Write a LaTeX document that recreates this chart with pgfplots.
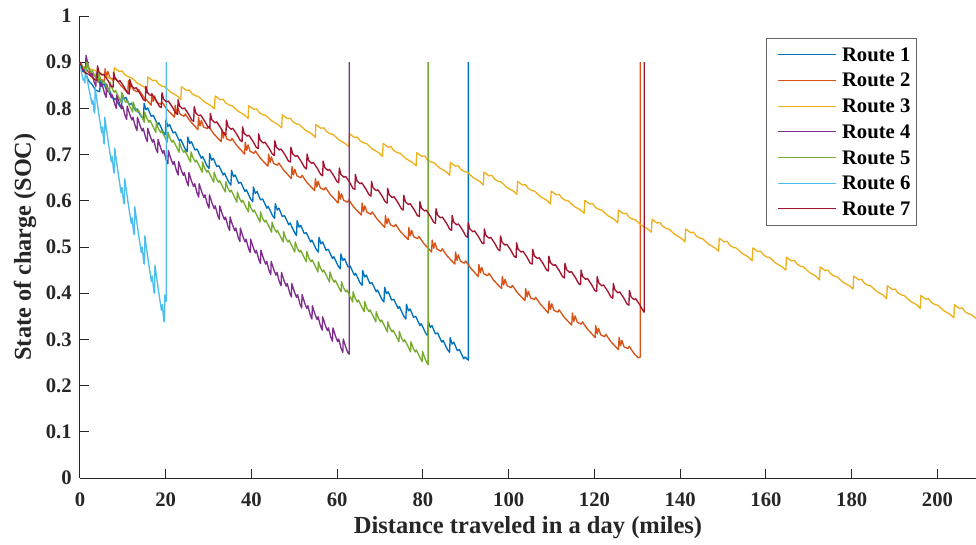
\documentclass[border=0pt]{standalone}
\usepackage{pgfplots}
\pgfplotsset{compat=1.18}
\usepackage{fontspec}
\setmainfont{Liberation Serif}

\definecolor{rA}{RGB}{0,114,189}
\definecolor{rB}{RGB}{217,83,25}
\definecolor{rC}{RGB}{237,177,32}
\definecolor{rD}{RGB}{126,47,142}
\definecolor{rE}{RGB}{119,172,48}
\definecolor{rF}{RGB}{77,190,238}
\definecolor{rG}{RGB}{162,20,47}
\definecolor{axisgray}{RGB}{38,38,38}
\definecolor{legendgray}{RGB}{100,100,100}

\begin{document}
\begin{tikzpicture}
\begin{axis}[
  scale only axis,
  width=672pt, height=346.5pt,
  xmin=0, xmax=209, ymin=0, ymax=1,
  axis x line*=bottom, axis y line*=left,
  axis line style={-, line width=0.75pt, color=axisgray},
  tick align=inside,
  major tick length=7pt,
  tick style={line width=0.75pt, color=axisgray},
  xtick={0,20,40,60,80,100,120,140,160,180,200},
  xticklabels={0,20,40,60,80,100,120,140,160,180,200},
  ytick={0,0.1,0.2,0.3,0.4,0.5,0.6,0.7,0.8,0.9,1},
  yticklabels={0,0.1,0.2,0.3,0.4,0.5,0.6,0.7,0.8,0.9,1},
  /pgf/number format/assume math mode=true,
  tick label style={font=\fontsize{15.5}{18}\selectfont\bfseries, text=axisgray},
  yticklabel style={inner sep=0pt, anchor=east, xshift=-6pt},
  xticklabel style={inner sep=0pt, anchor=north, yshift=-10.5pt},
  xlabel={Distance traveled in a day (miles)},
  ylabel={State of charge (SOC)},
  every axis x label/.style={at={(axis description cs:0.5,-0.1212)}, anchor=base,
    font=\fontsize{18.4}{21}\selectfont\bfseries, text=axisgray},
  every axis y label/.style={at={(axis description cs:-0.0547,0.5)}, rotate=90, anchor=base,
    font=\fontsize{18.2}{21}\selectfont\bfseries, text=axisgray},
  every axis plot/.append style={line width=1pt, mark=none, line join=round},
  legend style={at={(0.934,0.952)}, anchor=north east, draw=legendgray, line width=0.75pt,
    fill=white, font=\fontsize{15.5}{18}\selectfont\bfseries,
    inner xsep=4.5pt, inner ysep=6.7pt, row sep=8.6pt, column sep=4.5pt,
    nodes={inner sep=0pt, text height=10.2pt, text depth=0pt, anchor=base west}},
  legend cell align=left,
  legend image code/.code={\path (0pt,0pt); \draw[#1, line width=0.75pt] (3.75pt,5pt) -- (46.75pt,5pt);},
]
% Route 1
\addplot[color=rA] coordinates {
(0,0.9) (0.6,0.880) (1.2,0.878) (2.0,0.860) (2.8,0.852) (3.6,0.840)
(4.6,0.836) (4.75,0.862) (5.2,0.850) (5.6,0.853) (6.4,0.836) (6.9,0.838) (7.9,0.818) (8.2,0.822) (9.2,0.806)
(9.7,0.800) (9.85,0.832) (10.3,0.820) (10.7,0.824) (11.5,0.808) (12.0,0.811) (13.0,0.795) (13.3,0.799) (14.3,0.782)
(14.8,0.779) (14.95,0.811) (15.4,0.797) (15.8,0.801) (16.6,0.783) (17.1,0.785) (18.1,0.765) (18.4,0.769) (19.4,0.749)
(19.9,0.743) (20.05,0.775) (20.5,0.761) (20.9,0.765) (21.7,0.747) (22.2,0.749) (23.2,0.729) (23.5,0.733) (24.5,0.713)
(25.0,0.706) (25.15,0.738) (25.6,0.724) (26.0,0.728) (26.8,0.710) (27.3,0.712) (28.3,0.692) (28.6,0.696) (29.6,0.676)
(30.1,0.670) (30.25,0.702) (30.7,0.688) (31.1,0.692) (31.9,0.674) (32.4,0.676) (33.4,0.656) (33.7,0.660) (34.7,0.640)
(35.2,0.634) (35.35,0.666) (35.8,0.652) (36.2,0.656) (37.0,0.638) (37.5,0.640) (38.5,0.620) (38.8,0.624) (39.8,0.604)
(40.3,0.598) (40.45,0.630) (40.9,0.616) (41.3,0.620) (42.1,0.602) (42.6,0.604) (43.6,0.584) (43.9,0.588) (44.9,0.568)
(45.4,0.562) (45.55,0.594) (46.0,0.580) (46.4,0.584) (47.2,0.566) (47.7,0.568) (48.7,0.548) (49.0,0.552) (50.0,0.532)
(50.5,0.525) (50.65,0.557) (51.1,0.543) (51.5,0.547) (52.3,0.529) (52.8,0.531) (53.8,0.511) (54.1,0.515) (55.1,0.495)
(55.6,0.489) (55.75,0.521) (56.2,0.507) (56.6,0.511) (57.4,0.493) (57.9,0.495) (58.9,0.475) (59.2,0.479) (60.2,0.459)
(60.7,0.453) (60.85,0.485) (61.3,0.471) (61.7,0.475) (62.5,0.457) (63.0,0.459) (64.0,0.439) (64.3,0.443) (65.3,0.423)
(65.8,0.417) (65.95,0.449) (66.4,0.435) (66.8,0.439) (67.6,0.421) (68.1,0.423) (69.1,0.403) (69.4,0.407) (70.4,0.387)
(70.9,0.381) (71.05,0.413) (71.5,0.399) (71.9,0.403) (72.7,0.385) (73.2,0.387) (74.2,0.367) (74.5,0.371) (75.5,0.351)
(76.0,0.344) (76.15,0.376) (76.6,0.362) (77.0,0.366) (77.8,0.348) (78.3,0.350) (79.3,0.330) (79.6,0.334) (80.6,0.314)
(81.1,0.308) (81.25,0.340) (81.7,0.326) (82.1,0.330) (82.9,0.312) (83.4,0.314) (84.4,0.294) (84.7,0.298) (85.7,0.278)
(86.2,0.272) (86.35,0.304) (86.8,0.290) (87.2,0.294) (88.0,0.276) (88.5,0.278) (89.5,0.258) (89.8,0.262) (90.6,0.255)
(90.6,0.9)
};
% Route 2
\addplot[color=rB] coordinates {
(0,0.9) (0.6,0.885) (1.2,0.890) (2.0,0.878) (3.0,0.874) (4.0,0.866) (5.0,0.862)
(5.7,0.860) (5.85,0.886) (6.2,0.868) (6.5,0.880) (7.0,0.866) (7.9,0.862) (8.2,0.867) (9.3,0.852) (10.3,0.842)
(11.15,0.834) (11.3,0.860) (11.65,0.842) (11.95,0.854) (12.45,0.840) (13.35,0.836) (13.65,0.841) (14.75,0.826) (15.75,0.816)
(16.6,0.807) (16.75,0.833) (17.1,0.815) (17.4,0.827) (17.9,0.813) (18.8,0.809) (19.1,0.814) (20.2,0.799) (21.2,0.789)
(22.05,0.781) (22.2,0.807) (22.55,0.789) (22.85,0.801) (23.35,0.787) (24.25,0.783) (24.55,0.788) (25.65,0.773) (26.65,0.763)
(27.5,0.754) (27.65,0.780) (28.0,0.762) (28.3,0.774) (28.8,0.760) (29.7,0.756) (30.0,0.761) (31.1,0.746) (32.1,0.736)
(32.95,0.728) (33.1,0.754) (33.45,0.736) (33.75,0.748) (34.25,0.734) (35.15,0.730) (35.45,0.735) (36.55,0.720) (37.55,0.710)
(38.4,0.701) (38.55,0.727) (38.9,0.709) (39.2,0.721) (39.7,0.707) (40.6,0.703) (40.9,0.708) (42.0,0.693) (43.0,0.683)
(43.85,0.675) (44.0,0.701) (44.35,0.683) (44.65,0.695) (45.15,0.681) (46.05,0.677) (46.35,0.682) (47.45,0.667) (48.45,0.657)
(49.3,0.648) (49.45,0.674) (49.8,0.656) (50.1,0.668) (50.6,0.654) (51.5,0.650) (51.8,0.655) (52.9,0.640) (53.9,0.630)
(54.75,0.622) (54.9,0.648) (55.25,0.630) (55.55,0.642) (56.05,0.628) (56.95,0.624) (57.25,0.629) (58.35,0.614) (59.35,0.604)
(60.2,0.595) (60.35,0.621) (60.7,0.603) (61.0,0.615) (61.5,0.601) (62.4,0.597) (62.7,0.602) (63.8,0.587) (64.8,0.577)
(65.65,0.569) (65.8,0.595) (66.15,0.577) (66.45,0.589) (66.95,0.575) (67.85,0.571) (68.15,0.576) (69.25,0.561) (70.25,0.551)
(71.1,0.542) (71.25,0.568) (71.6,0.550) (71.9,0.562) (72.4,0.548) (73.3,0.544) (73.6,0.549) (74.7,0.534) (75.7,0.524)
(76.55,0.516) (76.7,0.542) (77.05,0.524) (77.35,0.536) (77.85,0.522) (78.75,0.518) (79.05,0.523) (80.15,0.508) (81.15,0.498)
(82.0,0.489) (82.15,0.515) (82.5,0.497) (82.8,0.509) (83.3,0.495) (84.2,0.491) (84.5,0.496) (85.6,0.481) (86.6,0.471)
(87.45,0.463) (87.6,0.489) (87.95,0.471) (88.25,0.483) (88.75,0.469) (89.65,0.465) (89.95,0.470) (91.05,0.455) (92.05,0.445)
(92.9,0.436) (93.05,0.462) (93.4,0.444) (93.7,0.456) (94.2,0.442) (95.1,0.438) (95.4,0.443) (96.5,0.428) (97.5,0.418)
(98.35,0.410) (98.5,0.436) (98.85,0.418) (99.15,0.430) (99.65,0.416) (100.55,0.412) (100.85,0.417) (101.95,0.402) (102.95,0.392)
(103.8,0.384) (103.95,0.410) (104.3,0.392) (104.6,0.404) (105.1,0.390) (106.0,0.386) (106.3,0.391) (107.4,0.376) (108.4,0.366)
(109.25,0.357) (109.4,0.383) (109.75,0.365) (110.05,0.377) (110.55,0.363) (111.45,0.359) (111.75,0.364) (112.85,0.349) (113.85,0.339)
(114.7,0.331) (114.85,0.357) (115.2,0.339) (115.5,0.351) (116.0,0.337) (116.9,0.333) (117.2,0.338) (118.3,0.323) (119.3,0.313)
(120.15,0.304) (120.3,0.330) (120.65,0.312) (120.95,0.324) (121.45,0.310) (122.35,0.306) (122.65,0.311) (123.75,0.296) (124.75,0.286)
(125.6,0.278) (125.75,0.304) (126.1,0.286) (126.4,0.298) (126.9,0.284) (127.8,0.280) (128.1,0.285) (129.2,0.270) (130.2,0.260)
(130.7,0.262) (130.7,0.9)
};
% Route 3
\addplot[color=rC] coordinates {
(0,0.9) (0.6,0.888) (1.5,0.890) (2.5,0.885) (3.5,0.882) (4.5,0.878) (5.5,0.872) (6.8,0.866)
(7.84,0.860) (7.99,0.888) (8.44,0.885) (9.14,0.880) (9.84,0.881) (10.44,0.873) (11.34,0.868) (11.94,0.867) (13.34,0.855) (14.84,0.847)
(15.68,0.840) (15.83,0.868) (16.28,0.865) (16.98,0.860) (17.68,0.861) (18.28,0.853) (19.18,0.848) (19.78,0.847) (21.18,0.835) (22.68,0.827)
(23.52,0.819) (23.67,0.847) (24.12,0.844) (24.82,0.839) (25.52,0.840) (26.12,0.832) (27.02,0.827) (27.62,0.826) (29.02,0.814) (30.52,0.806)
(31.36,0.799) (31.51,0.827) (31.96,0.824) (32.66,0.819) (33.36,0.820) (33.96,0.812) (34.86,0.807) (35.46,0.806) (36.86,0.794) (38.36,0.786)
(39.2,0.778) (39.35,0.806) (39.8,0.803) (40.5,0.798) (41.2,0.799) (41.8,0.791) (42.7,0.786) (43.3,0.785) (44.7,0.773) (46.2,0.765)
(47.04,0.758) (47.19,0.786) (47.64,0.783) (48.34,0.778) (49.04,0.779) (49.64,0.771) (50.54,0.766) (51.14,0.765) (52.54,0.753) (54.04,0.745)
(54.88,0.737) (55.03,0.765) (55.48,0.762) (56.18,0.757) (56.88,0.758) (57.48,0.750) (58.38,0.745) (58.98,0.744) (60.38,0.732) (61.88,0.724)
(62.72,0.717) (62.87,0.745) (63.32,0.742) (64.02,0.737) (64.72,0.738) (65.32,0.730) (66.22,0.725) (66.82,0.724) (68.22,0.712) (69.72,0.704)
(70.56,0.696) (70.71,0.724) (71.16,0.721) (71.86,0.716) (72.56,0.717) (73.16,0.709) (74.06,0.704) (74.66,0.703) (76.06,0.691) (77.56,0.683)
(78.4,0.676) (78.55,0.704) (79.0,0.701) (79.7,0.696) (80.4,0.697) (81.0,0.689) (81.9,0.684) (82.5,0.683) (83.9,0.671) (85.4,0.663)
(86.24,0.655) (86.39,0.683) (86.84,0.680) (87.54,0.675) (88.24,0.676) (88.84,0.668) (89.74,0.663) (90.34,0.662) (91.74,0.650) (93.24,0.642)
(94.08,0.634) (94.23,0.662) (94.68,0.659) (95.38,0.654) (96.08,0.655) (96.68,0.647) (97.58,0.642) (98.18,0.641) (99.58,0.629) (101.08,0.621)
(101.92,0.614) (102.07,0.642) (102.52,0.639) (103.22,0.634) (103.92,0.635) (104.52,0.627) (105.42,0.622) (106.02,0.621) (107.42,0.609) (108.92,0.601)
(109.76,0.593) (109.91,0.621) (110.36,0.618) (111.06,0.613) (111.76,0.614) (112.36,0.606) (113.26,0.601) (113.86,0.600) (115.26,0.588) (116.76,0.580)
(117.6,0.573) (117.75,0.601) (118.2,0.598) (118.9,0.593) (119.6,0.594) (120.2,0.586) (121.1,0.581) (121.7,0.580) (123.1,0.568) (124.6,0.560)
(125.44,0.552) (125.59,0.580) (126.04,0.577) (126.74,0.572) (127.44,0.573) (128.04,0.565) (128.94,0.560) (129.54,0.559) (130.94,0.547) (132.44,0.539)
(133.28,0.532) (133.43,0.560) (133.88,0.557) (134.58,0.552) (135.28,0.553) (135.88,0.545) (136.78,0.540) (137.38,0.539) (138.78,0.527) (140.28,0.519)
(141.12,0.511) (141.27,0.539) (141.72,0.536) (142.42,0.531) (143.12,0.532) (143.72,0.524) (144.62,0.519) (145.22,0.518) (146.62,0.506) (148.12,0.498)
(148.96,0.491) (149.11,0.519) (149.56,0.516) (150.26,0.511) (150.96,0.512) (151.56,0.504) (152.46,0.499) (153.06,0.498) (154.46,0.486) (155.96,0.478)
(156.8,0.470) (156.95,0.498) (157.4,0.495) (158.1,0.490) (158.8,0.491) (159.4,0.483) (160.3,0.478) (160.9,0.477) (162.3,0.465) (163.8,0.457)
(164.64,0.450) (164.79,0.478) (165.24,0.475) (165.94,0.470) (166.64,0.471) (167.24,0.463) (168.14,0.458) (168.74,0.457) (170.14,0.445) (171.64,0.437)
(172.48,0.429) (172.63,0.457) (173.08,0.454) (173.78,0.449) (174.48,0.450) (175.08,0.442) (175.98,0.437) (176.58,0.436) (177.98,0.424) (179.48,0.416)
(180.32,0.409) (180.47,0.437) (180.92,0.434) (181.62,0.429) (182.32,0.430) (182.92,0.422) (183.82,0.417) (184.42,0.416) (185.82,0.404) (187.32,0.396)
(188.16,0.388) (188.31,0.416) (188.76,0.413) (189.46,0.408) (190.16,0.409) (190.76,0.401) (191.66,0.396) (192.26,0.395) (193.66,0.383) (195.16,0.375)
(196.0,0.367) (196.15,0.395) (196.6,0.392) (197.3,0.387) (198.0,0.388) (198.6,0.380) (199.5,0.375) (200.1,0.374) (201.5,0.362) (203.0,0.354)
(203.84,0.347) (203.99,0.375) (204.44,0.372) (205.14,0.367) (205.84,0.368) (206.44,0.360) (207.34,0.355) (207.94,0.354) (209.0,0.345)
};
% Route 4
\addplot[color=rD] coordinates {
(0,0.9) (0.6,0.890) (1.0,0.885) (1.3,0.880) (1.4,0.915) (2.0,0.890) (2.5,0.871) (2.75,0.877) (3.3,0.857)
(3.7,0.848) (3.8,0.877) (4.4,0.859) (4.9,0.847) (5.15,0.853) (5.7,0.833)
(6.1,0.824) (6.2,0.853) (6.8,0.835) (7.3,0.823) (7.55,0.829) (8.1,0.809)
(8.5,0.800) (8.6,0.829) (9.2,0.811) (9.7,0.799) (9.95,0.805) (10.5,0.785)
(10.9,0.776) (11.0,0.805) (11.6,0.787) (12.1,0.775) (12.35,0.781) (12.9,0.761)
(13.3,0.752) (13.4,0.781) (14.0,0.763) (14.5,0.751) (14.75,0.757) (15.3,0.737)
(15.7,0.728) (15.8,0.757) (16.4,0.739) (16.9,0.727) (17.15,0.733) (17.7,0.713)
(18.1,0.704) (18.2,0.733) (18.8,0.715) (19.3,0.703) (19.55,0.709) (20.1,0.689)
(20.5,0.680) (20.6,0.709) (21.2,0.691) (21.7,0.679) (21.95,0.685) (22.5,0.665)
(22.9,0.656) (23.0,0.685) (23.6,0.667) (24.1,0.655) (24.35,0.661) (24.9,0.641)
(25.3,0.632) (25.4,0.661) (26.0,0.643) (26.5,0.631) (26.75,0.637) (27.3,0.617)
(27.7,0.608) (27.8,0.637) (28.4,0.619) (28.9,0.607) (29.15,0.613) (29.7,0.593)
(30.1,0.584) (30.2,0.613) (30.8,0.595) (31.3,0.583) (31.55,0.589) (32.1,0.569)
(32.5,0.560) (32.6,0.589) (33.2,0.571) (33.7,0.559) (33.95,0.565) (34.5,0.545)
(34.9,0.536) (35.0,0.565) (35.6,0.547) (36.1,0.535) (36.35,0.541) (36.9,0.521)
(37.3,0.512) (37.4,0.541) (38.0,0.523) (38.5,0.511) (38.75,0.517) (39.3,0.497)
(39.7,0.488) (39.8,0.517) (40.4,0.499) (40.9,0.487) (41.15,0.493) (41.7,0.473)
(42.1,0.464) (42.2,0.493) (42.8,0.475) (43.3,0.463) (43.55,0.469) (44.1,0.449)
(44.5,0.440) (44.6,0.469) (45.2,0.451) (45.7,0.439) (45.95,0.445) (46.5,0.425)
(46.9,0.416) (47.0,0.445) (47.6,0.427) (48.1,0.415) (48.35,0.421) (48.9,0.401)
(49.3,0.392) (49.4,0.421) (50.0,0.403) (50.5,0.391) (50.75,0.397) (51.3,0.377)
(51.7,0.368) (51.8,0.397) (52.4,0.379) (52.9,0.367) (53.15,0.373) (53.7,0.353)
(54.1,0.344) (54.2,0.373) (54.8,0.355) (55.3,0.343) (55.55,0.349) (56.1,0.329)
(56.5,0.320) (56.6,0.349) (57.2,0.331) (57.7,0.319) (57.95,0.325) (58.5,0.305)
(58.9,0.296) (59.0,0.325) (59.6,0.307) (60.1,0.295) (60.35,0.301) (60.9,0.281)
(61.3,0.272) (61.4,0.301) (62.0,0.283) (62.5,0.271) (62.8,0.268) (62.8,0.9)
};
% Route 5
\addplot[color=rE] coordinates {
(0,0.9) (0.5,0.893) (0.9,0.886) (1.2,0.889)
(1.5,0.878) (1.6,0.900) (2.1,0.886) (2.6,0.878) (2.85,0.882) (3.7,0.866)
(4.2,0.856) (4.3,0.878) (4.8,0.864) (5.3,0.856) (5.55,0.860) (6.4,0.844)
(6.9,0.835) (7.0,0.857) (7.5,0.843) (8.0,0.835) (8.25,0.839) (9.1,0.823)
(9.6,0.813) (9.7,0.835) (10.2,0.821) (10.7,0.813) (10.95,0.817) (11.8,0.801)
(12.3,0.792) (12.4,0.814) (12.9,0.800) (13.4,0.792) (13.65,0.796) (14.5,0.780)
(15.0,0.770) (15.1,0.792) (15.6,0.778) (16.1,0.770) (16.35,0.774) (17.2,0.758)
(17.7,0.748) (17.8,0.770) (18.3,0.756) (18.8,0.748) (19.05,0.752) (19.9,0.736)
(20.4,0.727) (20.5,0.749) (21.0,0.735) (21.5,0.727) (21.75,0.731) (22.6,0.715)
(23.1,0.705) (23.2,0.727) (23.7,0.713) (24.2,0.705) (24.45,0.709) (25.3,0.693)
(25.8,0.684) (25.9,0.706) (26.4,0.692) (26.9,0.684) (27.15,0.688) (28.0,0.672)
(28.5,0.662) (28.6,0.684) (29.1,0.670) (29.6,0.662) (29.85,0.666) (30.7,0.650)
(31.2,0.640) (31.3,0.662) (31.8,0.648) (32.3,0.640) (32.55,0.644) (33.4,0.628)
(33.9,0.619) (34.0,0.641) (34.5,0.627) (35.0,0.619) (35.25,0.623) (36.1,0.607)
(36.6,0.597) (36.7,0.619) (37.2,0.605) (37.7,0.597) (37.95,0.601) (38.8,0.585)
(39.3,0.576) (39.4,0.598) (39.9,0.584) (40.4,0.576) (40.65,0.580) (41.5,0.564)
(42.0,0.554) (42.1,0.576) (42.6,0.562) (43.1,0.554) (43.35,0.558) (44.2,0.542)
(44.7,0.532) (44.8,0.554) (45.3,0.540) (45.8,0.532) (46.05,0.536) (46.9,0.520)
(47.4,0.511) (47.5,0.533) (48.0,0.519) (48.5,0.511) (48.75,0.515) (49.6,0.499)
(50.1,0.489) (50.2,0.511) (50.7,0.497) (51.2,0.489) (51.45,0.493) (52.3,0.477)
(52.8,0.468) (52.9,0.490) (53.4,0.476) (53.9,0.468) (54.15,0.472) (55.0,0.456)
(55.5,0.446) (55.6,0.468) (56.1,0.454) (56.6,0.446) (56.85,0.450) (57.7,0.434)
(58.2,0.424) (58.3,0.446) (58.8,0.432) (59.3,0.424) (59.55,0.428) (60.4,0.412)
(60.9,0.403) (61.0,0.425) (61.5,0.411) (62.0,0.403) (62.25,0.407) (63.1,0.391)
(63.6,0.381) (63.7,0.403) (64.2,0.389) (64.7,0.381) (64.95,0.385) (65.8,0.369)
(66.3,0.360) (66.4,0.382) (66.9,0.368) (67.4,0.360) (67.65,0.364) (68.5,0.348)
(69.0,0.338) (69.1,0.360) (69.6,0.346) (70.1,0.338) (70.35,0.342) (71.2,0.326)
(71.7,0.316) (71.8,0.338) (72.3,0.324) (72.8,0.316) (73.05,0.320) (73.9,0.304)
(74.4,0.295) (74.5,0.317) (75.0,0.303) (75.5,0.295) (75.75,0.299) (76.6,0.283)
(77.1,0.273) (77.2,0.295) (77.7,0.281) (78.2,0.273) (78.45,0.277) (79.3,0.261)
(79.8,0.252) (79.9,0.274) (80.4,0.260) (80.9,0.250) (81.2,0.245) (81.2,0.9)
};
% Route 6
\addplot[color=rF] coordinates {
(0,0.9) (0.4,0.875) (0.8,0.860) (1.0,0.865) (1.15,0.855) (1.25,0.885)
(2.1,0.842) (2.8,0.809) (3.0,0.818) (3.3,0.792) (3.45,0.790) (3.53,0.845)
(4.35,0.790) (5.05,0.747) (5.25,0.760) (5.55,0.725) (5.7,0.723) (5.78,0.781)
(6.6,0.727) (7.3,0.684) (7.5,0.696) (7.85,0.662) (8.0,0.660) (8.08,0.714)
(8.9,0.660) (9.6,0.617) (9.8,0.629) (10.2,0.595) (10.35,0.593) (10.43,0.648)
(11.25,0.594) (11.95,0.551) (12.15,0.563) (12.55,0.529) (12.7,0.527) (12.78,0.587)
(13.6,0.531) (14.3,0.488) (14.5,0.500) (14.9,0.465) (15.05,0.463) (15.13,0.524)
(15.95,0.468) (16.65,0.425) (16.85,0.437) (17.25,0.402) (17.4,0.400) (17.48,0.461)
(18.3,0.406) (19.0,0.363) (19.2,0.375) (19.55,0.340) (19.7,0.338) (19.78,0.396)
(19.95,0.385) (20.1,0.382) (20.1,0.9)
};
% Route 7
\addplot[color=rG] coordinates {
(0,0.9) (0.6,0.885) (1.2,0.877) (2.0,0.874) (2.8,0.868) (3.5,0.862)
(3.96,0.860) (4.08,0.892) (4.46,0.878) (5.16,0.872) (5.56,0.874) (6.56,0.860) (7.26,0.848)
(7.72,0.846) (7.84,0.878) (8.22,0.864) (8.92,0.858) (9.32,0.860) (10.32,0.846) (11.02,0.834)
(11.48,0.831) (11.6,0.863) (11.98,0.849) (12.68,0.843) (13.08,0.845) (14.08,0.831) (14.78,0.819)
(15.24,0.816) (15.36,0.848) (15.74,0.834) (16.44,0.828) (16.84,0.830) (17.84,0.816) (18.54,0.804)
(19.0,0.802) (19.12,0.834) (19.5,0.820) (20.2,0.814) (20.6,0.816) (21.6,0.802) (22.3,0.790)
(22.76,0.787) (22.88,0.819) (23.26,0.805) (23.96,0.799) (24.36,0.801) (25.36,0.787) (26.06,0.775)
(26.52,0.772) (26.64,0.804) (27.02,0.790) (27.72,0.784) (28.12,0.786) (29.12,0.772) (29.82,0.760)
(30.28,0.757) (30.4,0.789) (30.78,0.775) (31.48,0.769) (31.88,0.771) (32.88,0.757) (33.58,0.745)
(34.04,0.743) (34.16,0.775) (34.54,0.761) (35.24,0.755) (35.64,0.757) (36.64,0.743) (37.34,0.731)
(37.8,0.728) (37.92,0.760) (38.3,0.746) (39.0,0.740) (39.4,0.742) (40.4,0.728) (41.1,0.716)
(41.56,0.713) (41.68,0.745) (42.06,0.731) (42.76,0.725) (43.16,0.727) (44.16,0.713) (44.86,0.701)
(45.32,0.698) (45.44,0.730) (45.82,0.716) (46.52,0.710) (46.92,0.712) (47.92,0.698) (48.62,0.686)
(49.08,0.684) (49.2,0.716) (49.58,0.702) (50.28,0.696) (50.68,0.698) (51.68,0.684) (52.38,0.672)
(52.84,0.669) (52.96,0.701) (53.34,0.687) (54.04,0.681) (54.44,0.683) (55.44,0.669) (56.14,0.657)
(56.6,0.654) (56.72,0.686) (57.1,0.672) (57.8,0.666) (58.2,0.668) (59.2,0.654) (59.9,0.642)
(60.36,0.639) (60.48,0.671) (60.86,0.657) (61.56,0.651) (61.96,0.653) (62.96,0.639) (63.66,0.627)
(64.12,0.625) (64.24,0.657) (64.62,0.643) (65.32,0.637) (65.72,0.639) (66.72,0.625) (67.42,0.613)
(67.88,0.610) (68.0,0.642) (68.38,0.628) (69.08,0.622) (69.48,0.624) (70.48,0.610) (71.18,0.598)
(71.64,0.595) (71.76,0.627) (72.14,0.613) (72.84,0.607) (73.24,0.609) (74.24,0.595) (74.94,0.583)
(75.4,0.580) (75.52,0.612) (75.9,0.598) (76.6,0.592) (77.0,0.594) (78.0,0.580) (78.7,0.568)
(79.16,0.566) (79.28,0.598) (79.66,0.584) (80.36,0.578) (80.76,0.580) (81.76,0.566) (82.46,0.554)
(82.92,0.551) (83.04,0.583) (83.42,0.569) (84.12,0.563) (84.52,0.565) (85.52,0.551) (86.22,0.539)
(86.68,0.536) (86.8,0.568) (87.18,0.554) (87.88,0.548) (88.28,0.550) (89.28,0.536) (89.98,0.524)
(90.44,0.521) (90.56,0.553) (90.94,0.539) (91.64,0.533) (92.04,0.535) (93.04,0.521) (93.74,0.509)
(94.2,0.507) (94.32,0.539) (94.7,0.525) (95.4,0.519) (95.8,0.521) (96.8,0.507) (97.5,0.495)
(97.96,0.492) (98.08,0.524) (98.46,0.510) (99.16,0.504) (99.56,0.506) (100.56,0.492) (101.26,0.480)
(101.72,0.477) (101.84,0.509) (102.22,0.495) (102.92,0.489) (103.32,0.491) (104.32,0.477) (105.02,0.465)
(105.48,0.463) (105.6,0.495) (105.98,0.481) (106.68,0.475) (107.08,0.477) (108.08,0.463) (108.78,0.451)
(109.24,0.448) (109.36,0.480) (109.74,0.466) (110.44,0.460) (110.84,0.462) (111.84,0.448) (112.54,0.436)
(113.0,0.433) (113.12,0.465) (113.5,0.451) (114.2,0.445) (114.6,0.447) (115.6,0.433) (116.3,0.421)
(116.76,0.418) (116.88,0.450) (117.26,0.436) (117.96,0.430) (118.36,0.432) (119.36,0.418) (120.06,0.406)
(120.52,0.404) (120.64,0.436) (121.02,0.422) (121.72,0.416) (122.12,0.418) (123.12,0.404) (123.82,0.392)
(124.28,0.389) (124.4,0.421) (124.78,0.407) (125.48,0.401) (125.88,0.403) (126.88,0.389) (127.58,0.377)
(128.04,0.374) (128.16,0.406) (128.54,0.392) (129.24,0.386) (129.64,0.388) (130.64,0.374) (131.34,0.362)
(131.6,0.359) (131.6,0.9)
};
\legend{Route 1,Route 2,Route 3,Route 4,Route 5,Route 6,Route 7}
\end{axis}
\pgfresetboundingbox
\path[use as bounding box] (-60pt,-49.5pt) rectangle (672pt,358.5pt);
\end{tikzpicture}
\end{document}
